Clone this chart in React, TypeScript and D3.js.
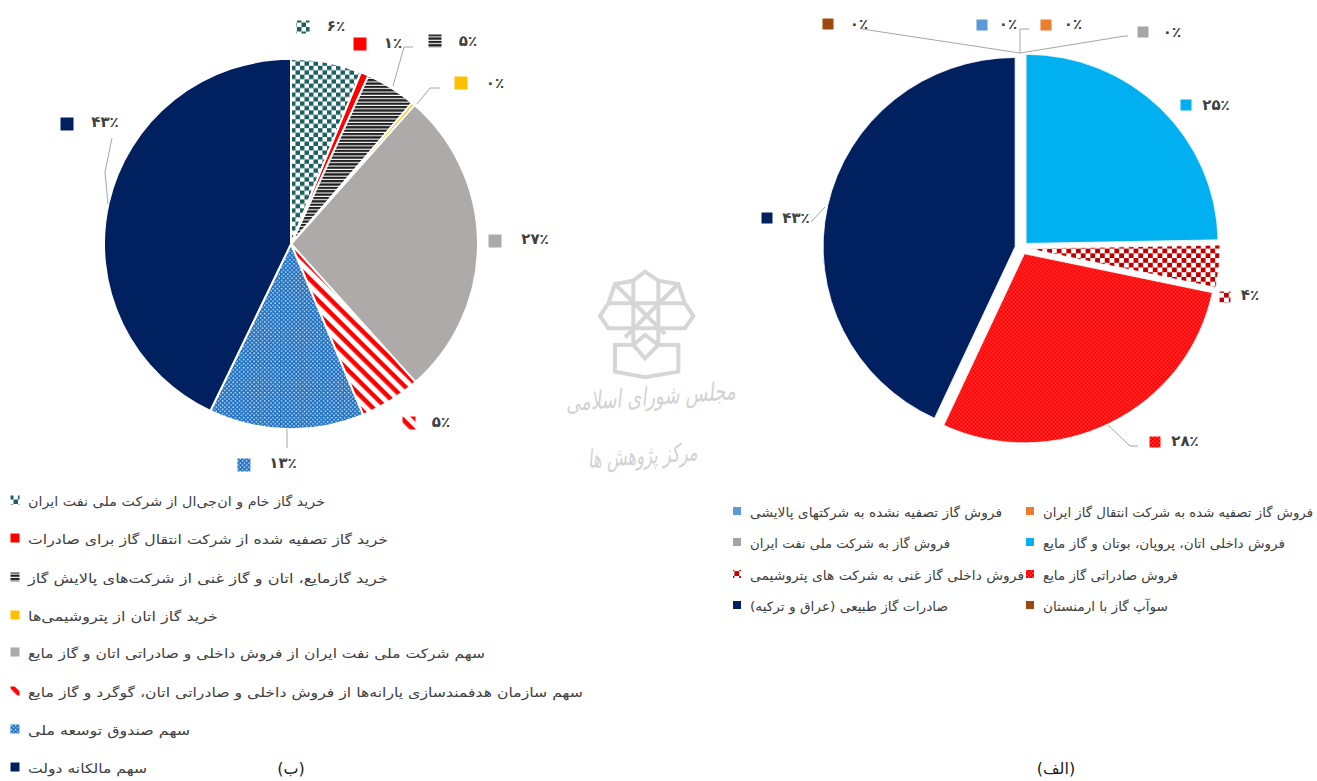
import React from "react";
import * as d3 from "d3";

// --- Data -----------------------------------------------------------------
const sharesB = [6.1, 0.7, 4.4, 0.3, 26.9, 5.3, 13.4, 42.9];
const fillsB = ["url(#tealCheck)", "#ff0000", "url(#blackLines)", "#ffc000", "#aeaaaa", "url(#redDiag)", "url(#blueDots)", "#002060"];
const valueLabelsB = ["۶٪", "۱٪", "۵٪", "۰٪", "۲۷٪", "۵٪", "۱۳٪", "۴۳٪"];
const namesB = [
  "خرید گاز خام و ان‌جی‌ال از شرکت ملی نفت ایران",
  "خرید گاز تصفیه شده از شرکت انتقال گاز برای صادرات",
  "خرید گازمایع، اتان و گاز غنی از شرکت‌های پالایش گاز",
  "خرید گاز اتان از پتروشیمی‌ها",
  "سهم شرکت ملی نفت ایران از فروش داخلی و صادراتی اتان و گاز مایع",
  "سهم سازمان هدفمندسازی یارانه‌ها از فروش داخلی و صادراتی اتان، گوگرد و گاز مایع",
  "سهم صندوق توسعه ملی",
  "سهم مالکانه دولت",
];
const legendEndsB = [325, 388, 388, 218, 485, 583, 190, 147];
const legendRowsB = [500, 538, 577, 615, 652, 691, 729, 767];

const sharesA = [0, 0, 0, 24.7, 3.6, 28.6, 43.1, 0];
const fillsA = ["#ed7d31", "#5b9bd5", "#a5a5a5", "#00b0f0", "url(#darkCheck)", "url(#redDots)", "#002060", "#9e480e"];
const namesA = [
  "فروش گاز تصفیه شده به شرکت انتقال گاز ایران",
  "فروش گاز تصفیه نشده به شرکتهای پالایشی",
  "فروش گاز به شرکت ملی نفت ایران",
  "فروش داخلی اتان، پروپان، بوتان و گاز مایع",
  "فروش داخلی گاز غنی به شرکت های پتروشیمی",
  "فروش صادراتی گاز مایع",
  "صادرات گاز طبیعی (عراق و ترکیه)",
  "سوآپ گاز با ارمنستان",
];
const valueLabelsA = ["۰٪", "۰٪", "۰٪", "۲۵٪", "۴٪", "۲۸٪", "۴۳٪", "۰٪"];
// order of the legend cells, left column then right column
const legendLeftA = [1, 2, 4, 6];
const legendRightA = [0, 3, 5, 7];
const legendEndsLeftA = [1002, 950, 1024, 948];
const legendEndsRightA = [1313, 1285, 1178, 1168];
const legendRowsA = [511, 542, 574, 605];

// data-label anchors: [key x, key y, text centre x, text y]
const labelPosB = [[303, 27, 336, 26], [360, 44, 393, 43], [435, 41, 468, 41], [461, 83, 495, 83], [495, 241, 535, 239], [409, 423, 441, 422], [244, 465, 283, 463], [67, 124, 105, 122]];
const labelPosA = [[1046, 25, 1073, 24], [982, 25, 1008, 24], [1143, 32, 1172, 32], [1186, 105, 1216, 105], [1225, 297, 1250, 295], [1155, 442, 1185, 441], [767, 218, 796, 218], [828, 24, 859, 24]];

const leadersB = ["M413,47H404L393,86", "M440,88H430L417,104", "M287,429V448", "M112,138L105,172L108,204"];
const leadersA = ["M862,29L1020,53", "M1029,29H1020V53", "M1020,53L1125,36H1128", "M811,222L825,207", "M1108,425L1130,446H1138"];

const FONT = "'DejaVu Sans', sans-serif";
const TEXT = "#404040";

const pie = d3.pie<number>().sort(null).value((d) => d);

function PieB() {
  const arc = d3.arc<d3.PieArcDatum<number>>().innerRadius(0).outerRadius(187);
  return (
    <g transform="translate(291,244) scale(1,0.99)">
      {pie(sharesB).map((d, i) => (
        <path key={i} d={arc(d) ?? ""} fill={fillsB[i]} stroke="#fff" strokeWidth={2} />
      ))}
    </g>
  );
}

function PieA() {
  const arc = d3.arc<d3.PieArcDatum<number>>().innerRadius(0).outerRadius(192);
  const explode = 6.5;
  return (
    <g transform="translate(1021.5,248) scale(1,0.985)">
      {pie(sharesA).map((d, i) => {
        if (d.value === 0) return null;
        const mid = (d.startAngle + d.endAngle) / 2;
        return (
          <path
            key={i}
            d={arc(d) ?? ""}
            transform={`translate(${Math.sin(mid) * explode},${-Math.cos(mid) * explode})`}
            fill={fillsA[i]}
            stroke="#fff"
            strokeWidth={0.8}
          />
        );
      })}
    </g>
  );
}

function ValueLabels({ labels, pos, fills, size }: { labels: string[]; pos: number[][]; fills: string[]; size: number }) {
  return (
    <g>
      {labels.map((t, i) => {
        const [kx, ky, tx, ty] = pos[i];
        return (
          <g key={i}>
            <rect x={kx - size / 2} y={ky - size / 2} width={size} height={size} fill={fills[i]} />
            <text x={tx} y={ty} textAnchor="middle" dominantBaseline="central" fontFamily={FONT} fontWeight="bold" fontSize={15} fill={TEXT}>
              {t}
            </text>
          </g>
        );
      })}
    </g>
  );
}

function LegendRow({ x, end, y, name, fill, key2 }: { x: number; end: number; y: number; name: string; fill: string; key2: number }) {
  return (
    <g>
      <rect x={x - key2 / 2} y={y - key2 / 2} width={key2} height={key2} fill={fill} />
      <text
        x={x + 13}
        y={y + 1}
        dominantBaseline="central"
        fontFamily={FONT}
        fontSize={13}
        fill={TEXT}
        textLength={end - x - 13}
        lengthAdjust="spacingAndGlyphs"
        style={{ direction: "ltr", unicodeBidi: "plaintext" } as React.CSSProperties}
        textAnchor="start"
      >
        {name}
      </text>
    </g>
  );
}

function Watermark() {
  const c = "#d6d6d6";
  return (
    <g>
      <g transform="translate(550,260) scale(0.3333)" fill="none" stroke={c} strokeWidth={12} strokeLinejoin="miter">
        <path d="M250,62L285,35L325,62L385,72L405,130L430,168L405,205H175L150,168L175,130L195,72L250,62" />
        <path d="M175,130H405" />
        <path d="M250,62V255M325,62V255" />
        <path d="M195,72L345,222M385,72L225,232" />
        <path d="M250,255L285,225L325,255L285,295L250,255" />
        <path d="M250,255H195V335L285,352L385,335V255H325" />
      </g>
      <text x={651} y={405} transform="rotate(-4 651 405)" textAnchor="middle" fontFamily={FONT} fontStyle="italic" fontSize={25} fill="#d2d2d2" textLength={170} lengthAdjust="spacingAndGlyphs">
        مجلس شورای اسلامی
      </text>
      <text x={643} y={464} transform="rotate(-4 643 464)" textAnchor="middle" fontFamily={FONT} fontStyle="italic" fontSize={25} fill="#d2d2d2" textLength={110} lengthAdjust="spacingAndGlyphs">
        مرکز پژوهش ها
      </text>
    </g>
  );
}

export default function App() {
  return (
    <svg width={1317} height={781} style={{ position: "absolute", left: 0, top: 0, background: "#fff" }}>
      <defs>
        <pattern id="tealCheck" width={9} height={9} patternUnits="userSpaceOnUse">
          <rect width={9} height={9} fill="#fff" />
          <rect width={4.5} height={4.5} fill="#1d5f63" />
          <rect x={4.5} y={4.5} width={4.5} height={4.5} fill="#1d5f63" />
        </pattern>
        <pattern id="darkCheck" width={9.6} height={9.6} patternUnits="userSpaceOnUse">
          <rect width={9.6} height={9.6} fill="#fff" />
          <rect width={4.8} height={4.8} fill="#c00000" />
          <rect x={4.8} y={4.8} width={4.8} height={4.8} fill="#c00000" />
        </pattern>
        <pattern id="blackLines" width={4} height={3.4} patternUnits="userSpaceOnUse">
          <rect width={4} height={3.4} fill="#fff" />
          <rect width={4} height={2.3} fill="#1f1f1f" />
        </pattern>
        <pattern id="redDiag" width={9.5} height={9.5} patternUnits="userSpaceOnUse" patternTransform="rotate(45)">
          <rect width={9.5} height={9.5} fill="#fff" />
          <rect width={9.5} height={4.5} fill="#ff0000" />
        </pattern>
        <pattern id="blueDots" width={4.2} height={4.2} patternUnits="userSpaceOnUse">
          <rect width={4.2} height={4.2} fill="#1f70c1" />
          <circle cx={1} cy={1} r={0.8} fill="#dbeaf7" />
          <circle cx={3.1} cy={3.1} r={0.8} fill="#dbeaf7" />
        </pattern>
        <pattern id="redDots" width={4} height={4} patternUnits="userSpaceOnUse">
          <rect width={4} height={4} fill="#ff0000" />
          <circle cx={1} cy={1} r={0.55} fill="#ffd0d0" />
          <circle cx={3} cy={3} r={0.55} fill="#ffd0d0" />
        </pattern>
      </defs>

      <Watermark />
      <PieB />
      <PieA />

      <g fill="none" stroke="#a6a6a6" strokeWidth={1}>
        {leadersB.map((d, i) => <path key={i} d={d} />)}
        {leadersA.map((d, i) => <path key={i} d={d} />)}
      </g>

      <ValueLabels labels={valueLabelsB} pos={labelPosB} fills={fillsB} size={13} />
      <ValueLabels labels={valueLabelsA} pos={labelPosA} fills={fillsA} size={11} />

      {namesB.map((n, i) => (
        <LegendRow key={i} x={15} end={legendEndsB[i]} y={legendRowsB[i]} name={n} fill={fillsB[i]} key2={9} />
      ))}
      {legendLeftA.map((idx, r) => (
        <LegendRow key={idx} x={737} end={legendEndsLeftA[r]} y={legendRowsA[r]} name={namesA[idx]} fill={fillsA[idx]} key2={8} />
      ))}
      {legendRightA.map((idx, r) => (
        <LegendRow key={idx} x={1030} end={legendEndsRightA[r]} y={legendRowsA[r]} name={namesA[idx]} fill={fillsA[idx]} key2={8} />
      ))}

      <text x={291} y={768} textAnchor="middle" dominantBaseline="central" fontFamily={FONT} fontSize={16} fill="#222">(ب)</text>
      <text x={1056} y={768} textAnchor="middle" dominantBaseline="central" fontFamily={FONT} fontSize={16} fill="#222">(الف)</text>
    </svg>
  );
}
